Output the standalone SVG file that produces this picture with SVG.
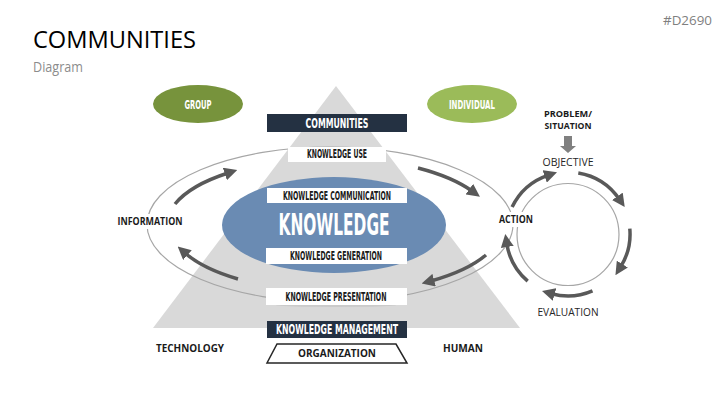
<svg xmlns="http://www.w3.org/2000/svg" width="727" height="409" viewBox="0 0 727 409">
<style>
.cond{font-family:"DejaVu Sans","Liberation Sans",sans-serif;font-weight:bold;font-stretch:condensed;text-anchor:middle}
.lbl{font-family:"Open Sans","Liberation Sans",sans-serif;font-weight:bold;fill:#1a1a1a;text-anchor:middle}
.reg{font-family:"Open Sans","Liberation Sans",sans-serif;fill:#262626;text-anchor:middle}
.wbox{fill:#ffffff}
.dbox{fill:#243142}
.arr{fill:none;stroke:#595959;stroke-width:3.5;marker-end:url(#ah)}
.thin{fill:none;stroke:#a6a6a6;stroke-width:1.2}
</style>
<defs>
<marker id="ah" markerUnits="userSpaceOnUse" markerWidth="13" markerHeight="13" viewBox="0 0 12 12" refX="3" refY="6" orient="auto">
<path d="M0,0 L12,6 L0,12 z" fill="#595959"/>
</marker>
</defs>
<rect width="727" height="409" fill="#ffffff"/>
<g id="title">
<text x="33" y="48" font-family="Open Sans, Liberation Sans, sans-serif" font-size="24" fill="#000" textLength="163" lengthAdjust="spacingAndGlyphs">COMMUNITIES</text>
<text x="33" y="72" font-family="Open Sans, Liberation Sans, sans-serif" font-size="14" fill="#8c8c8c" textLength="50" lengthAdjust="spacingAndGlyphs">Diagram</text>
<text x="663" y="25" font-family="Open Sans, Liberation Sans, sans-serif" font-size="13" fill="#7f7f7f" textLength="49" lengthAdjust="spacingAndGlyphs">#D2690</text>
</g>
<g id="pyramid">
<polygon points="336,86 520,328 153,328" fill="#d9d9d9"/>
</g>
<g id="loops">
<ellipse cx="330" cy="224.5" rx="183" ry="77.5" class="thin"/>
<circle cx="568" cy="234.5" r="51" class="thin"/>
</g>
<g id="knowledge">
<ellipse cx="334" cy="225" rx="112" ry="48" fill="#6a8bb3"/>
<text x="334" y="235" class="cond" font-size="30" fill="#ffffff" textLength="111" lengthAdjust="spacingAndGlyphs">KNOWLEDGE</text>
</g>
<g id="group">
<ellipse cx="198" cy="104" rx="45" ry="19" fill="#77933c"/>
<text x="198" y="109" class="cond" font-size="12" fill="#ffffff" textLength="27" lengthAdjust="spacingAndGlyphs">GROUP</text>
</g>
<g id="individual">
<ellipse cx="472" cy="104" rx="45" ry="19" fill="#9bbb59"/>
<text x="472" y="109" class="cond" font-size="12" fill="#ffffff" textLength="46" lengthAdjust="spacingAndGlyphs">INDIVIDUAL</text>
</g>
<g id="communities">
<rect x="267" y="114" width="140" height="18" class="dbox"/>
<text x="337" y="128" class="cond" font-size="13.5" fill="#ffffff" textLength="63" lengthAdjust="spacingAndGlyphs">COMMUNITIES</text>
</g>
<g id="knowledge-use">
<rect x="288" y="147" width="98" height="15" class="wbox"/>
<text x="337" y="158" class="cond" font-size="12" fill="#1a1a1a" textLength="60" lengthAdjust="spacingAndGlyphs">KNOWLEDGE USE</text>
</g>
<g id="knowledge-communication">
<rect x="267" y="188" width="140" height="15" class="wbox"/>
<text x="337" y="200" class="cond" font-size="12" fill="#1a1a1a" textLength="108" lengthAdjust="spacingAndGlyphs">KNOWLEDGE COMMUNICATION</text>
</g>
<g id="knowledge-generation">
<rect x="266" y="248" width="141" height="16" class="wbox"/>
<text x="336" y="260" class="cond" font-size="12" fill="#1a1a1a" textLength="92" lengthAdjust="spacingAndGlyphs">KNOWLEDGE GENERATION</text>
</g>
<g id="knowledge-presentation">
<ellipse cx="336" cy="305" rx="60" ry="2" fill="#bfbfbf" opacity="0.6"/>
<rect x="266" y="288" width="141" height="17" class="wbox"/>
<text x="336" y="301" class="cond" font-size="12" fill="#1a1a1a" textLength="101" lengthAdjust="spacingAndGlyphs">KNOWLEDGE PRESENTATION</text>
</g>
<g id="knowledge-management">
<rect x="267" y="321" width="140" height="17" class="dbox"/>
<text x="337" y="334" class="cond" font-size="14" fill="#ffffff" textLength="122" lengthAdjust="spacingAndGlyphs">KNOWLEDGE MANAGEMENT</text>
</g>
<g id="organization">
<polygon points="277,344 396,344 407,363 267,363" fill="#ffffff" stroke="#262626" stroke-width="1.5"/>
<text x="337" y="357" class="lbl" font-size="11" textLength="78" lengthAdjust="spacingAndGlyphs">ORGANIZATION</text>
</g>
<g id="technology">
<text x="190" y="352" class="lbl" font-size="11" textLength="68" lengthAdjust="spacingAndGlyphs">TECHNOLOGY</text>
</g>
<g id="human">
<text x="463" y="352" class="lbl" font-size="11" textLength="40" lengthAdjust="spacingAndGlyphs">HUMAN</text>
</g>
<g id="information">
<rect x="115" y="214" width="70" height="15" fill="#ffffff"/>
<text x="150" y="225" class="lbl" font-size="10" textLength="65" lengthAdjust="spacingAndGlyphs">INFORMATION</text>
</g>
<g id="action">
<rect x="497" y="212" width="38" height="15" fill="#ffffff"/>
<text x="516" y="223" class="lbl" font-size="10" textLength="34" lengthAdjust="spacingAndGlyphs">ACTION</text>
</g>
<g id="problem">
<text x="568" y="117" class="lbl" font-size="9" textLength="48" lengthAdjust="spacingAndGlyphs">PROBLEM/</text>
<text x="568" y="129" class="lbl" font-size="9" textLength="47" lengthAdjust="spacingAndGlyphs">SITUATION</text>
<polygon points="564,136 572,136 572,146 576,146 568,153 560,146 564,146" fill="#808080"/>
</g>
<g id="objective">
<text x="568" y="166" class="reg" font-size="11" textLength="51" lengthAdjust="spacingAndGlyphs">OBJECTIVE</text>
</g>
<g id="evaluation">
<text x="568" y="316" class="reg" font-size="11" textLength="61" lengthAdjust="spacingAndGlyphs">EVALUATION</text>
</g>
<g id="connectors">
<path class="arr" d="M175,204 A164 66 0 0 1 228,173"/>
<path class="arr" d="M418,168 A164 66 0 0 1 472,191"/>
<path class="arr" d="M486,255 A164 66 0 0 1 431,281"/>
<path class="arr" d="M238,279 A164 66 0 0 1 185,253"/>
<path class="arr" d="M512.1,207.1 A62 62 0 0 1 547.8,175.4"/>
<path class="arr" d="M578.3,172.9 A62 62 0 0 1 619.2,199"/>
<path class="arr" d="M629.8,228.6 A62 62 0 0 1 620.6,266.9"/>
<path class="arr" d="M592.5,290.9 A62 62 0 0 1 551.4,293.7"/>
<path class="arr" d="M527.7,281.1 A62 62 0 0 1 506.8,243.7"/>
</g>
</svg>
